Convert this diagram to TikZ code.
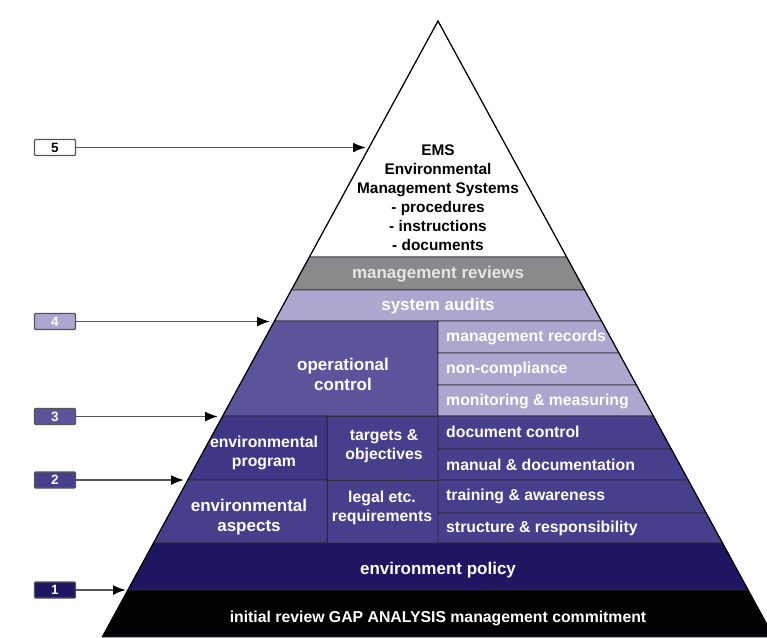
\documentclass[tikz,border=0pt]{standalone}
\usepackage{fontspec}
\setmainfont{Liberation Sans}
\usetikzlibrary{arrows.meta}
\definecolor{revgray}{HTML}{8A8A8A}
\definecolor{lav}{HTML}{ABA7CF}
\definecolor{opc}{HTML}{5B549B}
\definecolor{dpur}{HTML}{463F8C}
\definecolor{dpurL}{HTML}{3E3786}
\definecolor{navy}{HTML}{1E1660}
\definecolor{edgec}{HTML}{2A2A3A}
\definecolor{arrc}{HTML}{555555}
\tikzset{
  cell/.style={draw=edgec, line width=0.9pt},
  lbl/.style={text=white, align=center, inner sep=0pt, font=\bfseries\fontsize{17}{20}\selectfont},
  slbl/.style={text=white, align=center, inner sep=0pt, font=\bfseries\fontsize{15.8}{19.5}\selectfont},
  rlbl/.style={text=white, anchor=west, inner sep=0pt, font=\bfseries\fontsize{15.8}{19}\selectfont},
  numbox/.style={draw=arrc, line width=1.3pt, rounded corners=1pt, minimum width=41pt, minimum height=16pt, inner sep=0pt, font=\bfseries\fontsize{13.5}{13.5}\selectfont},
  arr/.style={draw=arrc, line width=1.8pt, -{Latex[length=13pt,width=10pt,color=black]}}
}
\begin{document}
\begin{tikzpicture}[x=1pt,y=-1pt]
\useasboundingbox (0,0) rectangle (767,637);
\clip (0,0) rectangle (767,637);
\fill[white] (0,0) rectangle (767,637);
% layers
\filldraw[cell, fill=white] (438,21) -- (566.6,257) -- (309.4,257) -- cycle;
\filldraw[cell, fill=revgray] (309.4,257) -- (566.6,257) -- (584.6,290) -- (291.4,290) -- cycle;
\filldraw[cell, fill=lav] (291.4,290) -- (584.6,290) -- (601.5,321) -- (274.5,321) -- cycle;
\filldraw[cell, fill=opc] (274.5,321) -- (438,321) -- (438,416) -- (222.7,416) -- cycle;
\filldraw[cell, fill=lav] (438,321) -- (601.5,321) -- (618.9,353) -- (438,353) -- cycle;
\filldraw[cell, fill=lav] (438,353) -- (618.9,353) -- (636.4,385) -- (438,385) -- cycle;
\filldraw[cell, fill=lav] (438,385) -- (636.4,385) -- (653.3,416) -- (438,416) -- cycle;
\filldraw[cell, fill=dpurL] (222.7,416) -- (327,416) -- (327,480) -- (187.8,480) -- cycle;
\filldraw[cell, fill=dpur] (327,416) -- (438,416) -- (438,480) -- (327,480) -- cycle;
\filldraw[cell, fill=dpur] (438,416) -- (653.3,416) -- (671.3,449) -- (438,449) -- cycle;
\filldraw[cell, fill=dpur] (438,449) -- (671.3,449) -- (688.2,480) -- (438,480) -- cycle;
\filldraw[cell, fill=dpur] (187.8,480) -- (327,480) -- (327,543) -- (153.5,543) -- cycle;
\filldraw[cell, fill=dpur] (327,480) -- (438,480) -- (438,543) -- (327,543) -- cycle;
\filldraw[cell, fill=dpur] (438,480) -- (688.2,480) -- (706.1,513) -- (438,513) -- cycle;
\filldraw[cell, fill=dpur] (438,513) -- (706.1,513) -- (722.5,543) -- (438,543) -- cycle;
\filldraw[cell, fill=navy] (153.5,543) -- (722.5,543) -- (748.1,590) -- (127.9,590) -- cycle;
\filldraw[cell, fill=black] (127.9,590) -- (748.1,590) -- (773.7,637) -- (102.3,637) -- cycle;
\draw[black, line width=1.1pt] (102.3,637) -- (438,21) -- (773.7,637);
% texts
\node[slbl, text=black, font=\bfseries\fontsize{15.4}{19}\selectfont] (ems) at (438,198) {EMS\\Environmental\\Management Systems\\- procedures\\- instructions\\- documents};
\node[lbl, text=white!90!black] (mrev) at (438,274) {management reviews};
\node[lbl] (saud) at (438,306) {system audits};
\node[lbl] (opcl) at (343,374) {operational\\control};
\node[rlbl] (mrec) at (446,337) {management records};
\node[rlbl] (ncomp) at (446,369) {non-compliance};
\node[rlbl] (monit) at (446,401) {monitoring \& measuring};
\node[rlbl] (dctl) at (446,432) {document control};
\node[rlbl] (mand) at (446,465) {manual \& documentation};
\node[rlbl] (traw) at (446,496) {training \& awareness};
\node[rlbl] (stres) at (446,528) {structure \& responsibility};
\node[slbl] (eprog) at (264,453) {environmental\\program};
\node[slbl] (targ) at (384,446) {targets \&\\objectives};
\node[lbl] (easp) at (249,517) {environmental\\aspects};
\node[slbl] (legal) at (382,508) {legal etc.\\requirements};
\node[lbl] (epol) at (438,570) {environment policy};
\node[slbl] (irev) at (438,618) {initial review GAP ANALYSIS management commitment};
% numbered boxes
\node[numbox, fill=white, text=black] (b5) at (55,147.5) {5};
\node[numbox, fill=lav, text=white] (b4) at (55,321.5) {4};
\node[numbox, fill=opc, text=white] (b3) at (55,416.5) {3};
\node[numbox, fill=dpur, text=white] (b2) at (55,480) {2};
\node[numbox, fill=navy, text=white] (b1) at (55,590) {1};
\coordinate (t5) at (366,147.5);
\coordinate (t4) at (270,321.5);
\coordinate (t3) at (218,416.5);
\coordinate (t2) at (184,480);
\coordinate (t1) at (126,590);
\draw[arr] (b5) -- (t5);
\draw[arr] (b4) -- (t4);
\draw[arr] (b3) -- (t3);
\draw[arr] (b2) -- (t2);
\draw[arr] (b1) -- (t1);
\end{tikzpicture}
\end{document}
